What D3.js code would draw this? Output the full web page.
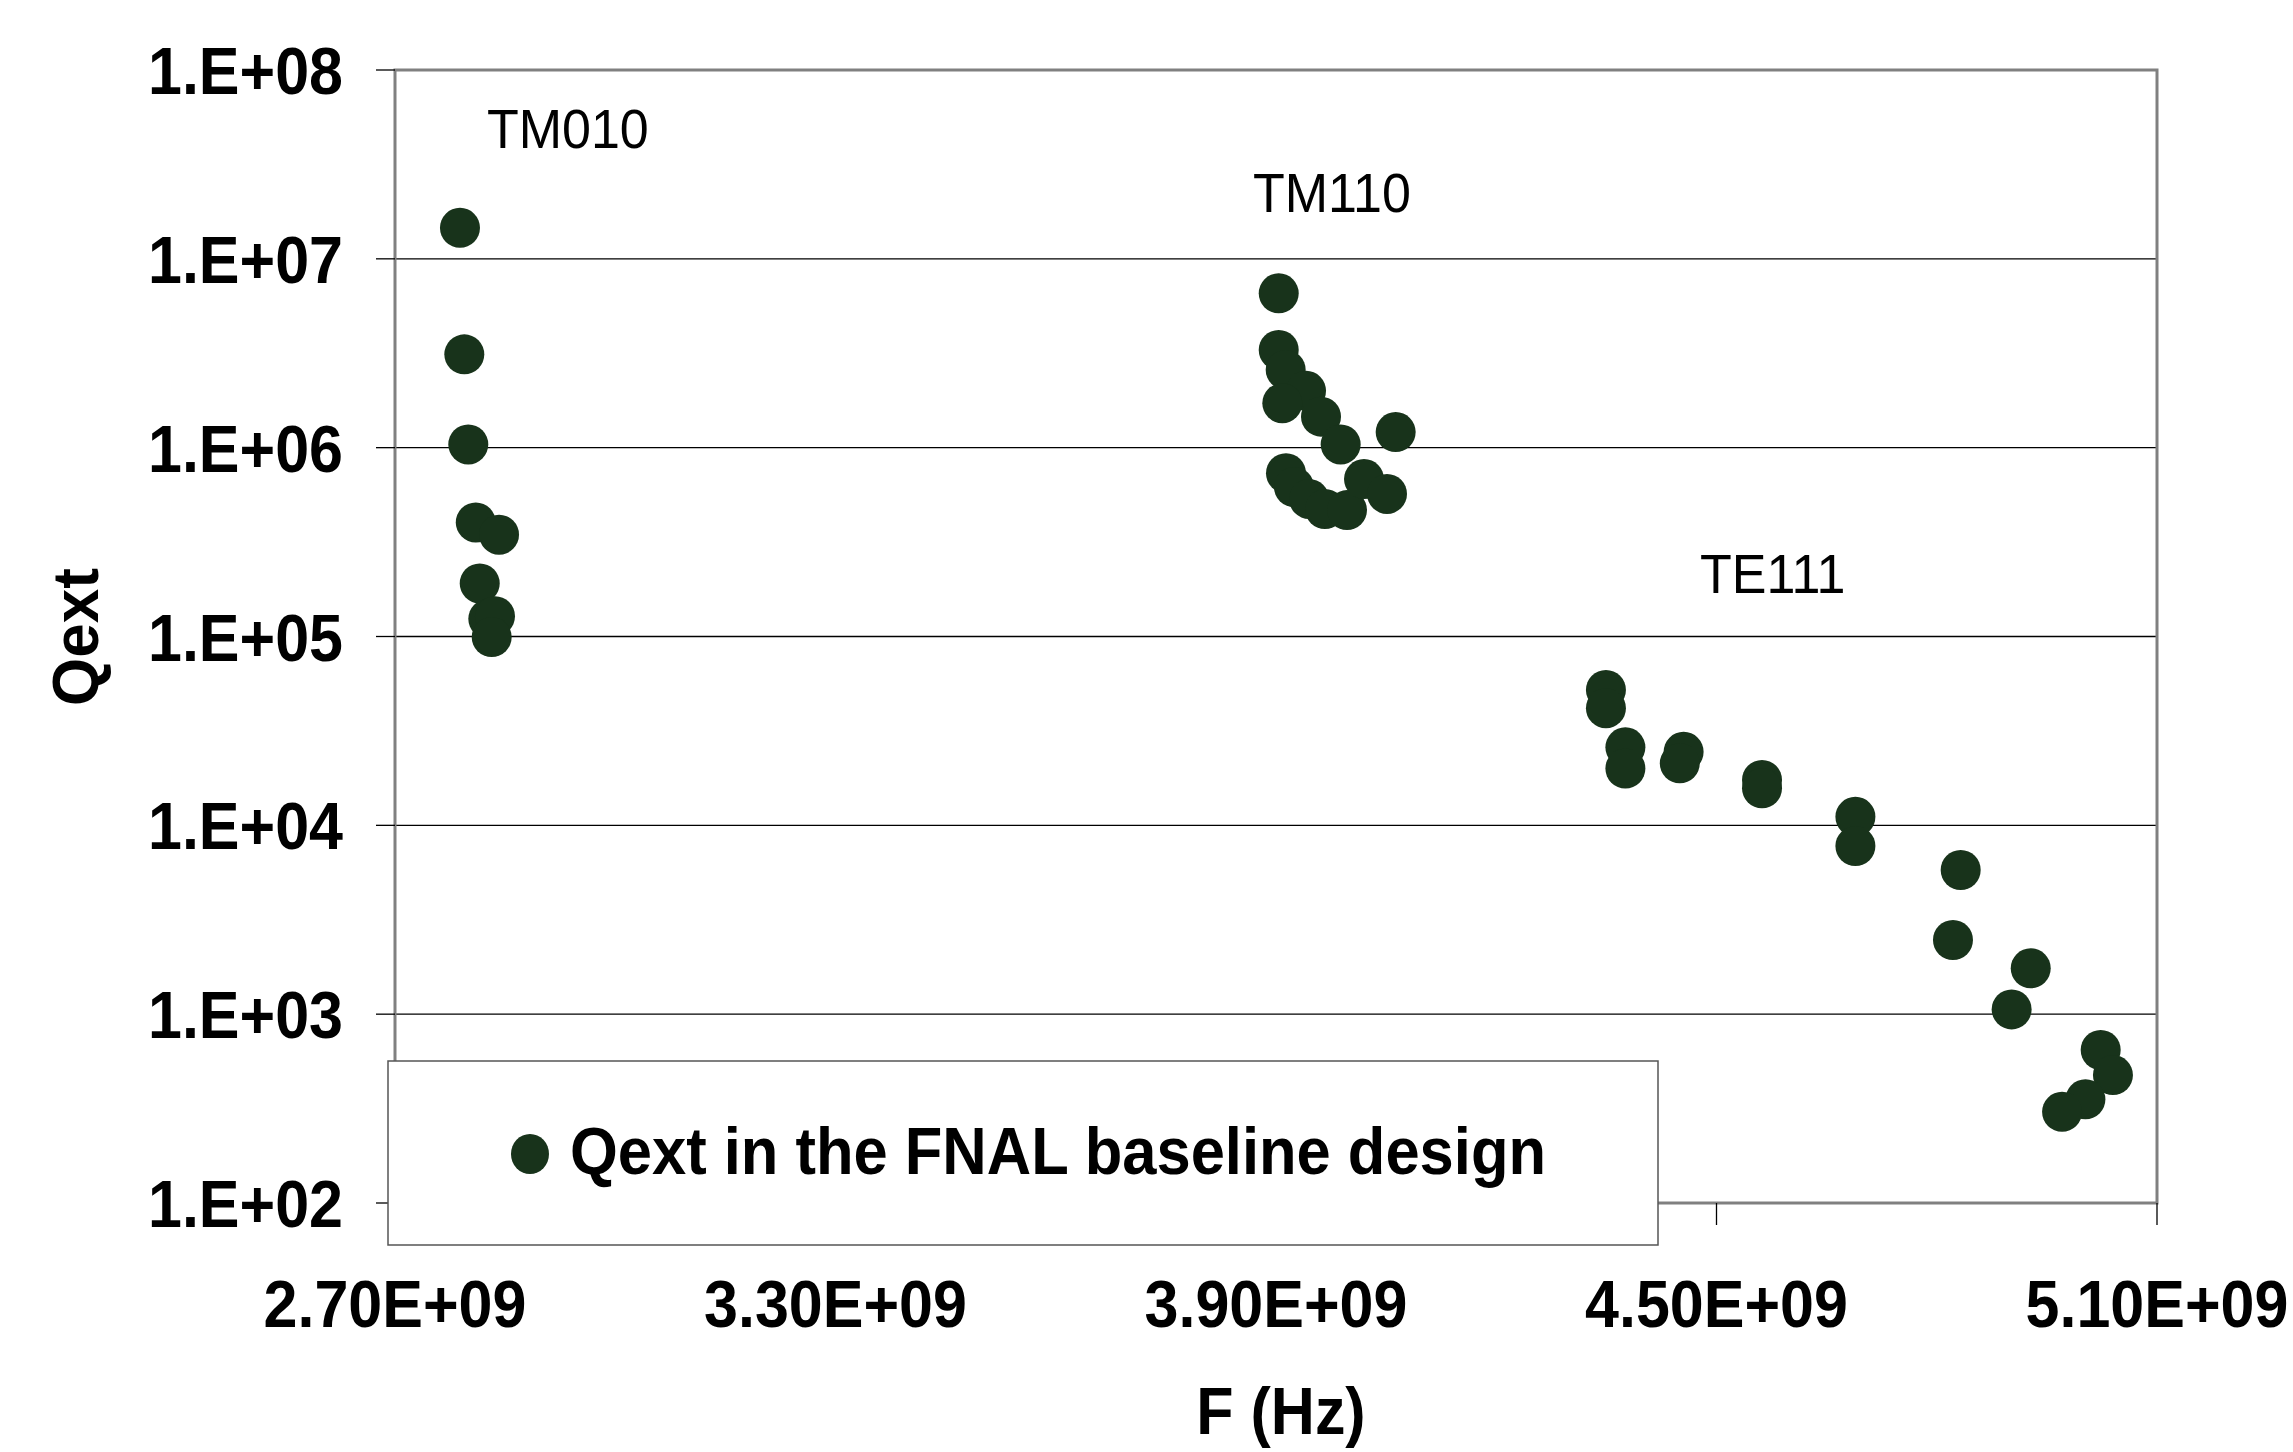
<!DOCTYPE html>
<html>
<head>
<meta charset="utf-8">
<script src="https://cdn.jsdelivr.net/npm/d3@7"></script>
<style>
  html, body { margin: 0; padding: 0; background: #ffffff; }
  svg { display: block; }
</style>
</head>
<body>
<svg id="chart" width="2293" height="1452"></svg>
<script>
// ---- data ----
const freqGHz = [
  2.7885, 2.7944, 2.7998, 2.8100, 2.8417, 2.8154, 2.8271, 2.8362, 2.8317,
  3.9037, 3.9037, 3.9132, 3.9409, 3.9086, 3.9613, 3.9881, 4.0630, 3.9136,
  3.9245, 3.9450, 3.9667, 3.9967, 4.0199, 4.0512,
  4.3494, 4.3494, 4.3759, 4.3759, 4.4552, 4.4500, 4.5620, 4.5620, 4.6892,
  4.6892, 4.8326, 4.8221, 4.9280, 4.9020, 5.0233, 5.0400, 5.0025, 4.9707
];
const qext = [
  1.46e7, 3.12e6, 1.04e6, 4.02e5, 3.46e5, 1.91e5, 1.24e5, 1.28e5, 9.93e4,
  6.57e6, 3.29e6, 2.58e6, 2.00e6, 1.72e6, 1.46e6, 1.04e6, 1.21e6, 7.32e5,
  6.19e5, 5.35e5, 4.73e5, 4.67e5, 6.82e5, 5.69e5,
  5.21e4, 4.17e4, 2.59e4, 2.00e4, 2.45e4, 2.13e4, 1.74e4, 1.57e4, 1.11e4,
  7.77e3, 5.80e3, 2.47e3, 1.75e3, 1.06e3, 646, 476, 354, 304
];
const seriesName = "Qext in the FNAL baseline design";

const xTicks = [2.7e9, 3.3e9, 3.9e9, 4.5e9, 5.1e9];
const xTickLabels = ["2.70E+09", "3.30E+09", "3.90E+09", "4.50E+09", "5.10E+09"];
const yTicks = [1e2, 1e3, 1e4, 1e5, 1e6, 1e7, 1e8];
const yTickLabels = ["1.E+02", "1.E+03", "1.E+04", "1.E+05", "1.E+06", "1.E+07", "1.E+08"];

const modeLabels = ["TM010", "TM110", "TE111"];
const modeLabelF = [2.8253e9, 3.8687e9, 4.4775e9];
const modeLabelQ = [3.86e7, 1.77e7, 1.70e5];

const xTitle = "F (Hz)";
const yTitle = "Qext";

// ---- layout ----
const plot = { left: 395, right: 2157, top: 70, bottom: 1203 };
const markerColor = "#18331b";
const FONT = "'Liberation Sans', Arial, Helvetica, sans-serif";

const svg = d3.select("#chart");

const x = d3.scaleLinear().domain([2.7e9, 5.1e9]).range([plot.left, plot.right]);
const y = d3.scaleLog().domain([1e2, 1e8]).range([plot.bottom, plot.top]);

function label(parent, text, px, py, o) {
  const g = parent.append("g")
    .attr("transform", `translate(${px},${py})${o.rotate ? ` rotate(${o.rotate})` : ""} scale(1,${o.sy || 1})`);
  g.append("text")
    .attr("x", 0).attr("y", 0)
    .attr("text-anchor", o.anchor || "start")
    .attr("font-family", FONT)
    .attr("font-size", o.size)
    .attr("font-weight", o.weight || "normal")
    .attr("fill", "#000")
    .text(text);
  return g;
}

// gridlines
svg.append("g").selectAll("line")
  .data(yTicks.filter(v => v > 1e2 && v < 1e8))
  .join("line")
  .attr("x1", plot.left).attr("x2", plot.right)
  .attr("y1", d => y(d)).attr("y2", d => y(d))
  .attr("stroke", "#000").attr("stroke-width", 1.3);

// plot frame (gray)
svg.append("rect")
  .attr("x", plot.left).attr("y", plot.top)
  .attr("width", plot.right - plot.left).attr("height", plot.bottom - plot.top)
  .attr("fill", "none").attr("stroke", "#808080").attr("stroke-width", 3);

// y ticks
svg.append("g").selectAll("line")
  .data(yTicks).join("line")
  .attr("x1", plot.left - 19).attr("x2", plot.left)
  .attr("y1", d => y(d)).attr("y2", d => y(d))
  .attr("stroke", "#000").attr("stroke-width", 1.3);

// x ticks
svg.append("g").selectAll("line")
  .data(xTicks).join("line")
  .attr("x1", d => x(d)).attr("x2", d => x(d))
  .attr("y1", plot.bottom).attr("y2", plot.bottom + 22)
  .attr("stroke", "#000").attr("stroke-width", 1.3);

// tick labels
const tickG = svg.append("g");
yTicks.forEach((v, i) => {
  label(tickG, yTickLabels[i], 343, y(v) + 24, { anchor: "end", size: 61, weight: "bold", sy: 1.09 });
});
xTicks.forEach((v, i) => {
  label(tickG, xTickLabels[i], x(v), 1327, { anchor: "middle", size: 61, weight: "bold", sy: 1.09 });
});

// axis titles
label(svg, xTitle, 1281, 1434, { anchor: "middle", size: 61, weight: "bold", sy: 1.09 });
label(svg, yTitle, 98, 637, { anchor: "middle", size: 62, weight: "bold", sy: 1.05, rotate: -90 });

// mode annotations
modeLabels.forEach((t, i) => {
  label(svg, t, x(modeLabelF[i]), y(modeLabelQ[i]), { anchor: "start", size: 52, sy: 1.05 });
});

// points
const pts = freqGHz.map((f, i) => ({ f: f * 1e9, q: qext[i] }));
svg.append("g").selectAll("circle")
  .data(pts).join("circle")
  .attr("cx", d => x(d.f)).attr("cy", d => y(d.q))
  .attr("r", 20)
  .attr("fill", markerColor);

// legend
const leg = svg.append("g");
leg.append("rect")
  .attr("x", 388).attr("y", 1061).attr("width", 1270).attr("height", 184)
  .attr("fill", "#fff").attr("stroke", "#555").attr("stroke-width", 1.5);
leg.append("ellipse")
  .attr("cx", 530).attr("cy", 1154).attr("rx", 19).attr("ry", 20)
  .attr("fill", markerColor);
label(leg, seriesName, 570, 1174, { anchor: "start", size: 61.5, weight: "bold", sy: 1.09 });
</script>
</body>
</html>
